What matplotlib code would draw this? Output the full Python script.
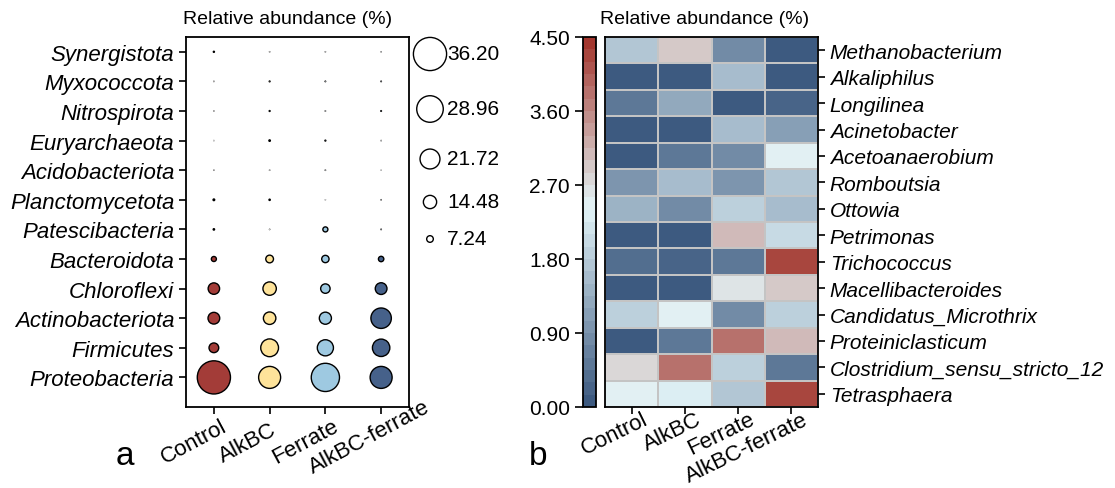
import numpy as np
import matplotlib
matplotlib.use("Agg")
import matplotlib.pyplot as plt
from matplotlib.colors import LinearSegmentedColormap, BoundaryNorm
from matplotlib.font_manager import FontProperties
from matplotlib.transforms import Affine2D

plt.rcParams['font.family'] = ['Liberation Sans', 'DejaVu Sans']

# ---------------- data ----------------
groups = ["Control", "AlkBC", "Ferrate", "AlkBC-ferrate"]
group_colors = ["#a33c38", "#fee39a", "#9ec9e1", "#46618a"]

phyla = ["Synergistota", "Myxococcota", "Nitrospirota", "Euryarchaeota",
         "Acidobacteriota", "Planctomycetota", "Patescibacteria", "Bacteroidota",
         "Chloroflexi", "Actinobacteriota", "Firmicutes", "Proteobacteria"]
phylum_control = [1.2, 0.3, 0.3, 0.2, 0.3, 1.8, 1.5, 5.5, 12.5, 12.8, 10.6, 36.2]
phylum_alkbc = [0.3, 0.9, 1.0, 1.6, 0.3, 1.4, 0.3, 8.4, 14.6, 13.6, 19.4, 24.0]
phylum_ferrate = [0.3, 0.6, 0.4, 1.0, 0.4, 0.2, 5.5, 8.0, 10.3, 13.2, 17.6, 30.8]
phylum_alkbc_ferrate = [0.3, 0.6, 0.8, 0.3, 0.2, 0.4, 0.5, 5.9, 12.8, 22.3, 19.0, 24.0]
size_breaks = [36.20, 28.96, 21.72, 14.48, 7.24]

genera = ["Methanobacterium", "Alkaliphilus", "Longilinea", "Acinetobacter",
          "Acetoanaerobium", "Romboutsia", "Ottowia", "Petrimonas", "Trichococcus",
          "Macellibacteroides", "Candidatus_Microthrix", "Proteiniclasticum",
          "Clostridium_sensu_stricto_12", "Tetrasphaera"]
genus_control = [1.70, 0.10, 0.55, 0.10, 0.10, 0.95, 1.35, 0.10, 0.35, 0.10, 1.85, 0.10, 2.75, 2.45]
genus_alkbc = [2.90, 0.10, 1.20, 0.10, 0.55, 1.50, 0.80, 0.10, 0.25, 0.10, 2.45, 0.45, 3.75, 2.30]
genus_ferrate = [0.85, 1.50, 0.10, 1.50, 0.80, 1.00, 1.90, 3.00, 0.55, 2.60, 0.80, 3.75, 1.90, 1.70]
genus_alkbc_ferrate = [0.10, 0.10, 0.25, 1.05, 2.45, 1.70, 1.50, 2.00, 4.20, 2.90, 1.85, 3.00, 0.55, 4.20]
cbar_ticks = [0.00, 0.90, 1.80, 2.70, 3.60, 4.50]

# ---------------- figure ----------------
W, H = 1115, 489
fig = plt.figure(figsize=(W / 100, H / 100), dpi=100)
renderer = fig.canvas.get_renderer()


def box(x0, y0, x1, y1):
    return [x0 / W, 1 - y1 / H, (x1 - x0) / W, (y1 - y0) / H]


PT_PER_PCT = 0.66  # marker diameter (points) per 1 % abundance


def bubble_size(v):
    return (PT_PER_PCT * np.asarray(v, dtype=float)) ** 2


def slanted_labels(ax, xs, labels, angle=28, size=16, frac=1.0, dx=0.0, drop=15.0):
    """Rotated group labels; the point at `frac` along each label sits at
    (tick + dx, axis bottom - drop) in pixels."""
    prop = FontProperties(family=['Liberation Sans', 'DejaVu Sans'], size=size)
    th = np.deg2rad(angle)
    for x, s in zip(xs, labels):
        w, _, _ = renderer.get_text_width_height_descent(s, prop, ismath=False)
        ox = dx + (0.5 - frac) * w * np.cos(th)
        oy = -drop + (0.5 - frac) * w * np.sin(th)
        tr = ax.get_xaxis_transform() + Affine2D().translate(ox, oy)
        ax.text(x, 0, s, transform=tr, fontproperties=prop, rotation=angle,
                rotation_mode="anchor", ha="center", va="center", clip_on=False)


# ---------------- panel a: bubble plot ----------------
ax = fig.add_axes(box(186, 38, 409, 408))
phylum_values = [phylum_control, phylum_alkbc, phylum_ferrate, phylum_alkbc_ferrate]
ypos = np.arange(len(phyla))[::-1]
for gi, (vals, col) in enumerate(zip(phylum_values, group_colors)):
    ax.scatter(np.full(len(phyla), gi), ypos, s=bubble_size(vals), c=col,
               edgecolors="black", linewidths=1.0, zorder=3)
ax.set_xlim(-0.5, 3.5)
ax.set_ylim(-1.0, len(phyla) - 0.5)
ax.set_yticks(ypos)
ax.set_yticklabels(phyla, fontsize=16, style="italic")
ax.set_xticks(range(len(groups)))
ax.tick_params(axis="both", direction="out", length=5, width=1.2, color="black")
ax.tick_params(axis="x", labelbottom=False)
for sp in ax.spines.values():
    sp.set_linewidth(1.3)
slanted_labels(ax, range(len(groups)), groups, frac=1 / 3, dx=-31, drop=40)

# size legend
lax = fig.add_axes(box(410, 38, 500, 260))
lax.set_xlim(410, 500)
lax.set_ylim(260, 38)
lax.axis("off")
legend_y = [55, 110, 160, 203, 240]
lax.scatter([430] * len(size_breaks), legend_y, s=bubble_size(size_breaks),
            facecolors="white", edgecolors="black", linewidths=1.0, clip_on=False)
for y, v in zip(legend_y, size_breaks):
    lax.text(447, y, f"{v:.2f}", fontsize=15, va="center", ha="left")

fig.text(288 / W, 1 - 20 / H, "Relative abundance (%)", fontsize=14, ha="center", va="center")
fig.text(125 / W, 1 - 457 / H, "a", fontsize=24, ha="center", va="center")

# ---------------- panel b: heatmap ----------------
hax = fig.add_axes(box(605, 38, 818, 408))
mat = np.column_stack([genus_control, genus_alkbc, genus_ferrate, genus_alkbc_ferrate])

cmap = LinearSegmentedColormap.from_list(
    "abund", [(0.0, "#3d5a80"), (0.54, "#e3f4f8"), (0.61, "#dcdcdc"), (1.0, "#a3372f")], N=30)
bounds = np.linspace(0, 4.5, 31)
norm = BoundaryNorm(bounds, cmap.N)

mesh = hax.pcolormesh(mat, cmap=cmap, norm=norm, edgecolors="#c4c4c4", linewidth=1.2)
hax.set_xlim(0, mat.shape[1])
hax.set_ylim(mat.shape[0], 0)
hax.yaxis.tick_right()
hax.set_yticks(np.arange(len(genera)) + 0.5)
hax.set_yticklabels(genera, fontsize=15, style="italic")
hax.set_xticks(np.arange(len(groups)) + 0.5)
hax.tick_params(axis="both", direction="out", length=5, width=1.2, color="black")
hax.tick_params(axis="x", labelbottom=False)
for sp in hax.spines.values():
    sp.set_linewidth(1.3)
slanted_labels(hax, np.arange(len(groups)) + 0.5, groups, angle=26, frac=1.0, dx=15, drop=11)

cax = fig.add_axes(box(583, 38, 596, 408))
cb = fig.colorbar(mesh, cax=cax, boundaries=bounds, ticks=cbar_ticks)
cb.ax.minorticks_off()
cb.ax.yaxis.set_ticks_position("left")
cb.ax.yaxis.set_label_position("left")
cb.ax.set_yticks(cbar_ticks)
cb.ax.set_yticklabels([f"{t:.2f}" for t in cbar_ticks])
cb.ax.tick_params(labelsize=15, length=6, width=1.2)
cb.outline.set_linewidth(1.3)

fig.text(705 / W, 1 - 20 / H, "Relative abundance (%)", fontsize=14, ha="center", va="center")
fig.text(538 / W, 1 - 457 / H, "b", fontsize=24, ha="center", va="center")

fig.savefig("out.png", dpi=100)
